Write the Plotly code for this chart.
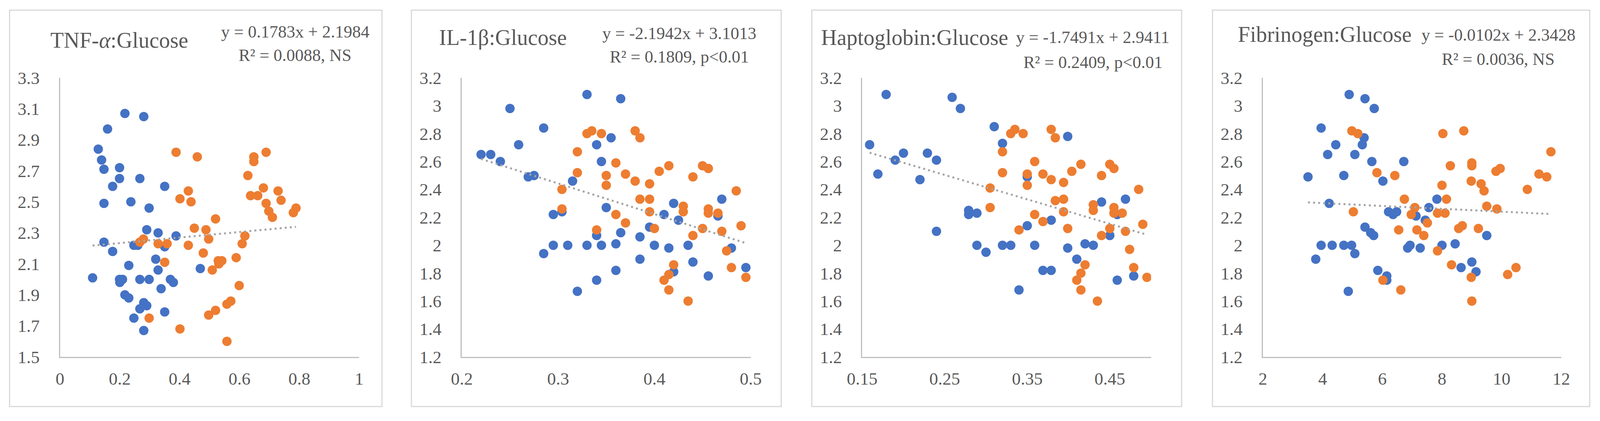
import plotly.graph_objects as go

# ---- data ----
panel_titles = ["TNF-<i>α</i>:Glucose", "IL-1β:Glucose", "Haptoglobin:Glucose", "Fibrinogen:Glucose"]
eq_line1 = ["y = 0.1783x + 2.1984", "y = -2.1942x + 3.1013", "y = -1.7491x + 2.9411", "y = -0.0102x + 2.3428"]
eq_line2 = ["R² = 0.0088, NS", "R² = 0.1809, p<0.01", "R² = 0.2409, p<0.01", "R² = 0.0036, NS"]
slopes = [0.1783, -2.1942, -1.7491, -0.0102]
intercepts = [2.1984, 3.1013, 2.9411, 2.3428]

tnf_blue_x = [0.217, 0.280, 0.159, 0.128, 0.139, 0.147, 0.199, 0.199, 0.267, 0.176, 0.350, 0.147,
              0.237, 0.298, 0.290, 0.328, 0.388, 0.147, 0.247, 0.260, 0.350, 0.176, 0.320, 0.230,
              0.328, 0.469, 0.109, 0.199, 0.209, 0.200, 0.267, 0.298, 0.369, 0.379, 0.338, 0.217,
              0.230, 0.280, 0.290, 0.267, 0.350, 0.247, 0.280]
tnf_blue_y = [3.07, 3.05, 2.97, 2.84, 2.77, 2.71, 2.72, 2.65, 2.65, 2.60, 2.60, 2.49,
              2.50, 2.46, 2.32, 2.30, 2.28, 2.24, 2.22, 2.22, 2.21, 2.18, 2.13, 2.09,
              2.06, 2.07, 2.01, 2.00, 2.00, 1.98, 2.00, 2.00, 2.00, 1.98, 1.94, 1.90,
              1.88, 1.85, 1.83, 1.81, 1.79, 1.75, 1.67]
tnf_orange_x = [0.388, 0.459, 0.689, 0.648, 0.648, 0.628, 0.429, 0.680, 0.729, 0.637, 0.661, 0.401,
                0.438, 0.739, 0.689, 0.698, 0.710, 0.789, 0.780, 0.520, 0.449, 0.488, 0.618, 0.279,
                0.267, 0.497, 0.328, 0.358, 0.429, 0.609, 0.479, 0.589, 0.350, 0.529, 0.541, 0.531,
                0.509, 0.599, 0.571, 0.558, 0.520, 0.497, 0.298, 0.401, 0.558]
tnf_orange_y = [2.82, 2.79, 2.82, 2.79, 2.76, 2.67, 2.57, 2.59, 2.57, 2.54, 2.54, 2.52,
                2.50, 2.51, 2.49, 2.44, 2.40, 2.46, 2.43, 2.39, 2.33, 2.32, 2.28, 2.26,
                2.24, 2.26, 2.23, 2.23, 2.22, 2.23, 2.17, 2.14, 2.11, 2.12, 2.12, 2.10,
                2.06, 1.96, 1.86, 1.84, 1.80, 1.77, 1.75, 1.68, 1.60]

il_blue_x = [0.330, 0.365, 0.250, 0.285, 0.355, 0.340, 0.259, 0.220, 0.230, 0.240, 0.345, 0.269,
             0.275, 0.315, 0.420, 0.470, 0.350, 0.295, 0.304, 0.410, 0.466, 0.425, 0.395, 0.365,
             0.340, 0.385, 0.360, 0.285, 0.295, 0.310, 0.330, 0.345, 0.400, 0.435, 0.415, 0.480,
             0.385, 0.440, 0.495, 0.360, 0.420, 0.456, 0.340, 0.320]
il_blue_y = [3.08, 3.05, 2.98, 2.84, 2.77, 2.72, 2.72, 2.65, 2.65, 2.60, 2.60, 2.49,
             2.50, 2.46, 2.30, 2.33, 2.27, 2.22, 2.24, 2.22, 2.21, 2.18, 2.13, 2.09,
             2.07, 2.06, 2.01, 1.94, 2.00, 2.00, 2.00, 2.00, 2.00, 2.00, 1.98, 1.98,
             1.90, 1.88, 1.84, 1.82, 1.81, 1.78, 1.75, 1.67]
il_orange_x = [0.335, 0.330, 0.345, 0.380, 0.385, 0.320, 0.360, 0.415, 0.450, 0.456, 0.405, 0.320,
               0.370, 0.350, 0.440, 0.380, 0.395, 0.350, 0.304, 0.485, 0.385, 0.395, 0.304, 0.430,
               0.430, 0.456, 0.456, 0.466, 0.360, 0.395, 0.370, 0.490, 0.340, 0.400, 0.450, 0.470,
               0.440, 0.475, 0.420, 0.480, 0.415, 0.410, 0.495, 0.415, 0.435]
il_orange_y = [2.82, 2.80, 2.80, 2.82, 2.77, 2.67, 2.59, 2.57, 2.57, 2.55, 2.53, 2.52,
               2.51, 2.50, 2.49, 2.46, 2.44, 2.43, 2.40, 2.39, 2.33, 2.33, 2.26, 2.28,
               2.24, 2.26, 2.23, 2.23, 2.22, 2.24, 2.16, 2.14, 2.11, 2.12, 2.12, 2.10,
               2.07, 1.96, 1.86, 1.84, 1.79, 1.75, 1.77, 1.68, 1.60]

hp_blue_x = [0.179, 0.259, 0.269, 0.310, 0.399, 0.320, 0.159, 0.200, 0.229, 0.190, 0.240, 0.169,
             0.220, 0.350, 0.440, 0.469, 0.279, 0.279, 0.289, 0.459, 0.379, 0.350, 0.240, 0.450,
             0.289, 0.320, 0.330, 0.359, 0.420, 0.430, 0.399, 0.300, 0.410, 0.369, 0.379, 0.479,
             0.459, 0.340]
hp_blue_y = [3.08, 3.06, 2.98, 2.85, 2.78, 2.73, 2.72, 2.66, 2.66, 2.61, 2.61, 2.51,
             2.47, 2.49, 2.31, 2.33, 2.25, 2.22, 2.23, 2.22, 2.18, 2.14, 2.10, 2.07,
             2.00, 2.00, 2.00, 2.00, 2.01, 2.00, 1.98, 1.95, 1.90, 1.82, 1.82, 1.78,
             1.75, 1.68]
hp_orange_x = [0.335, 0.330, 0.345, 0.379, 0.384, 0.320, 0.359, 0.415, 0.450, 0.455, 0.404, 0.320,
               0.369, 0.350, 0.440, 0.379, 0.394, 0.350, 0.305, 0.485, 0.384, 0.394, 0.305, 0.430,
               0.430, 0.455, 0.455, 0.465, 0.359, 0.394, 0.369, 0.490, 0.340, 0.399, 0.450, 0.469,
               0.440, 0.474, 0.420, 0.479, 0.415, 0.410, 0.495, 0.415, 0.435]
hp_orange_y = [2.83, 2.80, 2.80, 2.83, 2.77, 2.67, 2.60, 2.58, 2.58, 2.55, 2.53, 2.52,
               2.51, 2.51, 2.50, 2.47, 2.45, 2.43, 2.41, 2.40, 2.32, 2.33, 2.27, 2.29,
               2.25, 2.27, 2.23, 2.23, 2.22, 2.24, 2.17, 2.15, 2.11, 2.12, 2.12, 2.10,
               2.07, 1.97, 1.86, 1.84, 1.80, 1.75, 1.77, 1.68, 1.60]

fb_blue_x = [4.89, 5.42, 5.73, 3.95, 5.39, 5.33, 4.44, 4.17, 5.08, 5.65, 6.72, 3.51,
             4.71, 6.02, 7.83, 4.22, 7.56, 6.21, 6.36, 6.48, 7.13, 7.44, 5.42, 5.61,
             5.71, 9.50, 8.44, 3.95, 4.32, 4.71, 4.97, 8.00, 6.93, 6.85, 7.27, 5.08,
             3.77, 9.00, 8.64, 5.85, 9.14, 6.15, 6.15, 4.86]
fb_blue_y = [3.08, 3.05, 2.98, 2.84, 2.77, 2.72, 2.72, 2.65, 2.65, 2.60, 2.60, 2.49,
             2.50, 2.46, 2.33, 2.30, 2.27, 2.24, 2.22, 2.24, 2.21, 2.18, 2.13, 2.09,
             2.07, 2.07, 2.01, 2.00, 2.00, 2.00, 2.00, 2.00, 2.00, 1.98, 1.98, 1.94,
             1.90, 1.88, 1.84, 1.82, 1.81, 1.78, 1.75, 1.67]
fb_orange_x = [4.98, 5.18, 8.73, 8.03, 11.65, 8.28, 9.00, 9.00, 9.81, 9.95, 11.25, 11.51,
               5.82, 6.42, 8.98, 9.31, 8.00, 9.41, 10.86, 6.74, 8.15, 7.09, 9.50, 9.84,
               5.03, 6.97, 7.85, 8.10, 7.51, 6.55, 7.16, 8.56, 8.68, 9.22, 7.39, 7.85,
               8.32, 10.48, 10.20, 6.02, 8.98, 6.62, 9.00]
fb_orange_y = [2.82, 2.80, 2.82, 2.80, 2.67, 2.57, 2.59, 2.57, 2.53, 2.55, 2.51, 2.49,
               2.52, 2.50, 2.46, 2.44, 2.43, 2.39, 2.40, 2.33, 2.33, 2.27, 2.28, 2.26,
               2.24, 2.22, 2.23, 2.23, 2.16, 2.11, 2.11, 2.12, 2.14, 2.12, 2.07, 1.96,
               1.86, 1.84, 1.79, 1.75, 1.77, 1.68, 1.60]

x_ranges = [[0, 1], [0.2, 0.5], [0.15, 0.5], [2, 12]]
x_ticks = [[0, 0.2, 0.4, 0.6, 0.8, 1], [0.2, 0.3, 0.4, 0.5], [0.15, 0.25, 0.35, 0.45], [2, 4, 6, 8, 10, 12]]
x_labels = [["0", "0.2", "0.4", "0.6", "0.8", "1"], ["0.2", "0.3", "0.4", "0.5"],
            ["0.15", "0.25", "0.35", "0.45"], ["2", "4", "6", "8", "10", "12"]]
y_ranges = [[1.5, 3.3], [1.2, 3.2], [1.2, 3.2], [1.2, 3.2]]
y_ticks = [[1.5, 1.7, 1.9, 2.1, 2.3, 2.5, 2.7, 2.9, 3.1, 3.3]] + [[1.2, 1.4, 1.6, 1.8, 2.0, 2.2, 2.4, 2.6, 2.8, 3.0, 3.2]] * 3
y_labels = [["1.5", "1.7", "1.9", "2.1", "2.3", "2.5", "2.7", "2.9", "3.1", "3.3"]] + \
           [["1.2", "1.4", "1.6", "1.8", "2", "2.2", "2.4", "2.6", "2.8", "3", "3.2"]] * 3

series = [
    (tnf_blue_x, tnf_blue_y, tnf_orange_x, tnf_orange_y),
    (il_blue_x, il_blue_y, il_orange_x, il_orange_y),
    (hp_blue_x, hp_blue_y, hp_orange_x, hp_orange_y),
    (fb_blue_x, fb_blue_y, fb_orange_x, fb_orange_y),
]

# ---- layout geometry ----
# positions below are measured in reference pixels (4348 wide); the visible
# viewport is ~4096 px wide with the 8px body margin, so map into that
REF_W = 4348
VIEW_W = 4096
SX = VIEW_W / REF_W
OFF = 8
FIG_W, FIG_H = 4080, 1060


def px(x):
    return (x * SX - OFF) / FIG_W


def py(y):
    return 1 - (y - OFF) / FIG_H


BLUE, ORANGE = "#4472C4", "#ED7D31"
TEXT = "#595959"
FONT = "Liberation Serif"

plot_x = [(163, 976), (1255, 2040), (2343, 3128), (3432, 4243)]
plot_y = (199, 913)
boxes = [(26, 1038), (1118, 2123), (2206, 3211), (3295, 4320)]
box_y = (26, 1040)
# (x, y, anchor)
title_pos = [(324, 103, "center"), (1367, 96, "center"), (2742, 96, "right"), (3838, 88, "right")]
eq_pos = [(802, 81, 141), (1846, 86, 146), (2970, 96, 159), (4072, 89, 151)]

fig = go.Figure()
layout = dict(
    template="none",
    width=FIG_W, height=FIG_H, margin=dict(l=0, r=0, t=0, b=0, pad=0), autosize=False,
    paper_bgcolor="white", plot_bgcolor="white", showlegend=False,
    font=dict(family=FONT, color=TEXT),
)
shapes, annotations = [], []

for i, (bx, by, ox, oy) in enumerate(series):
    n = "" if i == 0 else str(i + 1)
    xa, ya = "x" + n, "y" + n
    fig.add_trace(go.Scatter(x=bx, y=by, mode="markers", xaxis=xa, yaxis=ya,
                             marker=dict(size=24, color=BLUE, line=dict(width=0))))
    fig.add_trace(go.Scatter(x=ox, y=oy, mode="markers", xaxis=xa, yaxis=ya,
                             marker=dict(size=24, color=ORANGE, line=dict(width=0))))
    all_x = bx + ox
    tx = [min(all_x), max(all_x)]
    ty = [slopes[i] * v + intercepts[i] for v in tx]
    fig.add_trace(go.Scatter(x=tx, y=ty, mode="lines", xaxis=xa, yaxis=ya,
                             line=dict(color="#A5A5A5", width=5, dash="5px,8px")))

    x0, x1 = plot_x[i]
    layout["xaxis" + n] = dict(
        domain=[px(x0), px(x1)], range=x_ranges[i], anchor=ya, automargin=False,
        tickvals=x_ticks[i], ticktext=x_labels[i], showgrid=False, zeroline=False,
        showline=True, linecolor="#BFBFBF", linewidth=3, ticks="",
        ticklabelstandoff=14, tickfont=dict(size=45, color=TEXT, family=FONT),
    )
    layout["yaxis" + n] = dict(
        domain=[py(plot_y[1]), py(plot_y[0])], range=y_ranges[i], anchor=xa,
        automargin=False,
        tickvals=y_ticks[i], ticktext=y_labels[i], showgrid=False, zeroline=False,
        showline=True, linecolor="#BFBFBF", linewidth=3, ticks="",
        ticklabelstandoff=40, tickfont=dict(size=45, color=TEXT, family=FONT),
    )

    b0, b1 = boxes[i]
    shapes.append(dict(type="rect", xref="paper", yref="paper",
                       x0=px(b0), x1=px(b1), y0=py(box_y[1]), y1=py(box_y[0]),
                       line=dict(color="#D9D9D9", width=3), layer="below"))

    tx_, ty_, anc = title_pos[i]
    annotations.append(dict(text=panel_titles[i], xref="paper", yref="paper",
                            x=px(tx_), y=py(ty_), xanchor=anc, yanchor="middle",
                            showarrow=False, font=dict(size=56, color=TEXT, family=FONT)))
    ex, ey1, ey2 = eq_pos[i]
    annotations.append(dict(text=eq_line1[i], xref="paper", yref="paper",
                            x=px(ex), y=py(ey1), xanchor="center", yanchor="middle",
                            showarrow=False, font=dict(size=44, color=TEXT, family=FONT)))
    annotations.append(dict(text=eq_line2[i], xref="paper", yref="paper",
                            x=px(ex), y=py(ey2), xanchor="center", yanchor="middle",
                            showarrow=False, font=dict(size=44, color=TEXT, family=FONT)))

layout["shapes"] = shapes
layout["annotations"] = annotations
fig.update_layout(**layout)

fig.write_html("out.html")
